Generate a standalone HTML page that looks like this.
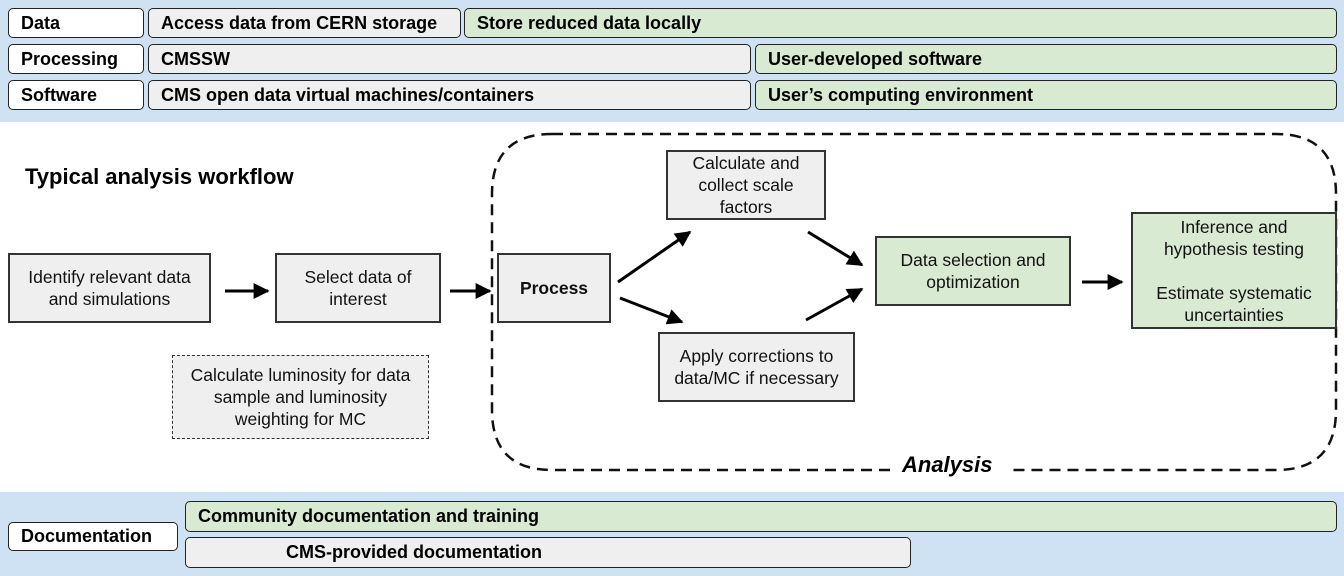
<!DOCTYPE html>
<html><head><style>
body{margin:0;width:1344px;height:576px;overflow:hidden;background:#fff;font-family:"Liberation Sans",sans-serif;position:relative}
.a{position:absolute;box-sizing:border-box}
.band{background:#cfe2f3}
.pill{border:1.5px solid #222;border-radius:5px;font-weight:bold;font-size:18px;padding-left:12px;display:flex;align-items:center}
.w{background:#fff}.g{background:#efefef}.gr{background:#d9ead3}
.box{border:2px solid #333;display:flex;align-items:center;justify-content:center;text-align:center;font-size:17.5px;line-height:22px;color:#111}
</style></head><body>
<div class="a band" style="left:0;top:0;width:1344px;height:122px"></div>
<div class="a pill w" style="left:8px;top:8px;width:136px;height:30px">Data</div>
<div class="a pill g" style="left:148px;top:8px;width:313px;height:30px">Access data from CERN storage</div>
<div class="a pill gr" style="left:464px;top:8px;width:873px;height:30px">Store reduced data locally</div>
<div class="a pill w" style="left:8px;top:44px;width:136px;height:30px">Processing</div>
<div class="a pill g" style="left:148px;top:44px;width:603px;height:30px">CMSSW</div>
<div class="a pill gr" style="left:755px;top:44px;width:582px;height:30px">User-developed software</div>
<div class="a pill w" style="left:8px;top:80px;width:136px;height:30px">Software</div>
<div class="a pill g" style="left:148px;top:80px;width:603px;height:30px">CMS open data virtual machines/containers</div>
<div class="a pill gr" style="left:755px;top:80px;width:582px;height:30px">User’s computing environment</div>

<div class="a band" style="left:0;top:492px;width:1344px;height:84px"></div>
<div class="a pill w" style="left:8px;top:522px;width:170px;height:29px">Documentation</div>
<div class="a pill gr" style="left:185px;top:501px;width:1152px;height:31px">Community documentation and training</div>
<div class="a pill g" style="left:185px;top:537px;width:726px;height:31px;padding-left:100px">CMS-provided documentation</div>

<div class="a" style="left:25px;top:164px;font-weight:bold;font-size:22px">Typical analysis workflow</div>

<svg class="a" style="left:0;top:0" width="1344" height="576">
<defs>
<marker id="h" viewBox="0 0 10 10" markerWidth="20" markerHeight="16" refX="9" refY="5" orient="auto" markerUnits="userSpaceOnUse"><path d="M0,0 L10,5 L0,10z" fill="#000"/></marker></defs>
<path d="M552,134 H1276 Q1336,134 1336,194 V410 Q1336,470 1276,470 H1010 M890,470 H552 Q492,470 492,410 V194 Q492,134 552,134" fill="none" stroke="#111" stroke-width="2.5" stroke-dasharray="11,7"/>
<g stroke="#000" stroke-width="3" marker-end="url(#h)">
<line x1="225" y1="291" x2="268" y2="291"/>
<line x1="450" y1="291" x2="490" y2="291"/>
<line x1="618" y1="282" x2="690" y2="232"/>
<line x1="620" y1="298" x2="682" y2="322"/>
<line x1="808" y1="232" x2="862" y2="265"/>
<line x1="806" y1="320" x2="862" y2="289"/>
<line x1="1082" y1="282" x2="1122" y2="282"/>
</g>
</svg>
<div class="a" style="left:902px;top:452px;font-weight:bold;font-style:italic;font-size:22px">Analysis</div>

<div class="a box g" style="left:8px;top:253px;width:203px;height:70px">Identify relevant data<br>and simulations</div>
<div class="a box g" style="left:275px;top:253px;width:166px;height:70px">Select data of<br>interest</div>
<div class="a box g" style="left:172px;top:355px;width:257px;height:84px;border:1.5px dashed #333">Calculate luminosity for data<br>sample and luminosity<br>weighting for MC</div>
<div class="a box g" style="left:497px;top:253px;width:114px;height:70px;font-weight:bold;font-size:17.5px">Process</div>
<div class="a box g" style="left:666px;top:150px;width:160px;height:70px">Calculate and<br>collect scale<br>factors</div>
<div class="a box g" style="left:658px;top:332px;width:197px;height:70px">Apply corrections to<br>data/MC if necessary</div>
<div class="a box gr" style="left:875px;top:236px;width:196px;height:70px">Data selection and<br>optimization</div>
<div class="a box gr" style="left:1131px;top:212px;width:206px;height:117px">Inference and<br>hypothesis testing<br><br>Estimate systematic<br>uncertainties</div>
</body></html>
